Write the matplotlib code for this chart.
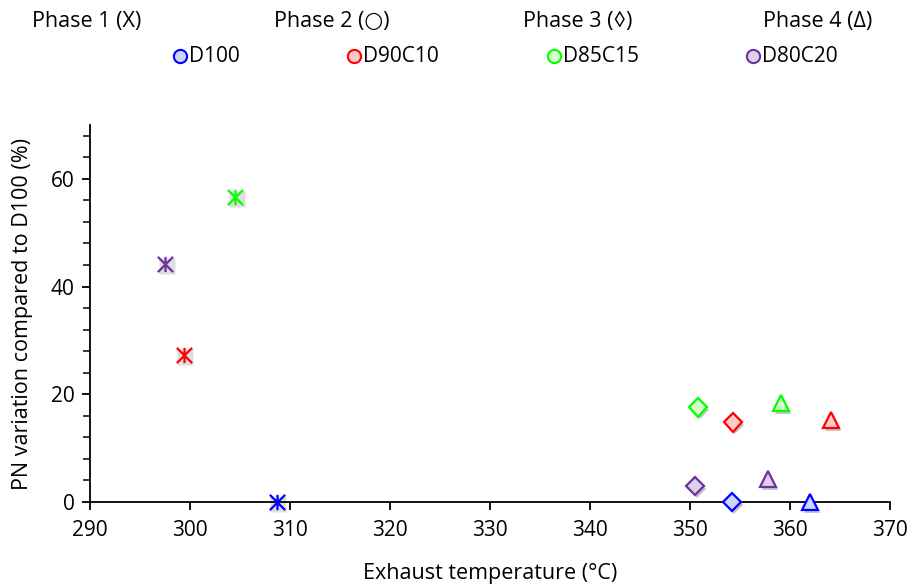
import numpy as np
import matplotlib
matplotlib.use("Agg")
from matplotlib import pyplot as plt
from matplotlib.path import Path
import matplotlib.patheffects as pe

plt.rcParams['font.family'] = ['Open Sans', 'DejaVu Sans']

# blends and their colours
blends = ["D100", "D90C10", "D85C15", "D80C20"]
edge_colors = ["#0000FF", "#FF0000", "#00FF00", "#7030A0"]
face_colors = ["#C9D6FF", "#FFC9C9", "#D4FFC9", "#DCD0EA"]
phases = ["Phase 1 (X)", "Phase 2 (\u25cb)", "Phase 3 (\u25ca)", "Phase 4 (\u0394)"]

# phase 1 (asterisk)
p1_temp = [308.7, 299.4, 304.5, 297.5]
p1_pn = [0.0, 27.3, 56.6, 44.2]
# phase 3 (diamond)
p3_temp = [354.2, 354.3, 350.8, 350.5]
p3_pn = [0.0, 14.8, 17.6, 3.0]
# phase 4 (triangle)
p4_temp = [362.0, 364.1, 359.1, 357.8]
p4_pn = [0.0, 15.2, 18.3, 4.3]

# asterisk like excel star: X plus vertical bar
star = Path([(-1, -1), (1, 1), (-1, 1), (1, -1), (0, -1), (0, 1)],
            [Path.MOVETO, Path.LINETO, Path.MOVETO, Path.LINETO, Path.MOVETO, Path.LINETO])

shadow = [pe.SimplePatchShadow(offset=(1.5, -2), shadow_rgbFace='#808080', alpha=0.45), pe.Normal()]

fig = plt.figure(figsize=(9.11, 5.88), dpi=100)
ax = fig.add_axes([90 / 911, 1 - 502 / 588, 800 / 911, 377 / 588])

for i in range(4):
    # grey box shadow behind the star marker
    ax.plot(p1_temp[i] + 0.15, p1_pn[i] - 0.4, ls='none', marker='s', ms=11,
            mfc='#d0d0d0', mec='none', alpha=0.7, zorder=2, clip_on=False)
    ax.plot(p1_temp[i], p1_pn[i], ls='none', marker=star, ms=11,
            mec=edge_colors[i], mew=1.6, zorder=4, clip_on=False)
    ax.plot(p3_temp[i], p3_pn[i], ls='none', marker='D', ms=9.5, clip_on=False,
            mec=edge_colors[i], mfc=face_colors[i], mew=1.6, zorder=4, path_effects=shadow)
    ax.plot(p4_temp[i], p4_pn[i], ls='none', marker='^', ms=11.5, clip_on=False,
            mec=edge_colors[i], mfc=face_colors[i], mew=1.6, zorder=4, path_effects=shadow)

ax.set_xlim(290, 370)
ax.set_ylim(0, 70)
ax.set_xticks(np.arange(290, 371, 10))
ax.set_yticks([0, 20, 40, 60])
ax.set_yticks(np.arange(0, 70, 4), minor=True)
ax.spines['top'].set_visible(False)
ax.spines['right'].set_visible(False)
ax.spines['left'].set_linewidth(1.3)
ax.spines['bottom'].set_linewidth(1.3)
ax.spines['left'].set_bounds(0, 70)
ax.tick_params(axis='both', which='major', direction='out', length=6, width=1.3, labelsize=15)
ax.tick_params(axis='x', which='major', pad=7)
ax.tick_params(axis='y', which='major', pad=5)
ax.tick_params(axis='y', which='minor', direction='out', length=5, width=1.1)
ax.set_xlabel("Exhaust temperature (\u00b0C)", fontsize=15.5)
ax.set_ylabel("PN variation compared to D100 (%)", fontsize=15.5)
ax.xaxis.set_label_coords(0.5, -0.162)
ax.yaxis.set_label_coords(-0.071, 0.5)

# header: phase labels and blend legend
phase_x = [87, 332, 578, 818]
for x, t in zip(phase_x, phases):
    fig.text(x / 911, 1 - 21 / 588, t, ha='center', va='center', fontsize=15.5)
leg_x = [180, 354, 554, 753]
for x, b, ec, fc in zip(leg_x, blends, edge_colors, face_colors):
    fig.lines.append(plt.Line2D([x / 911], [1 - 56 / 588], transform=fig.transFigure,
                                ls='none', marker='o', ms=9.5, mec=ec, mfc=fc, mew=1.5))
    fig.text((x + 9) / 911, 1 - 56 / 588, b, ha='left', va='center', fontsize=15)

fig.savefig("out.png", dpi=100)
